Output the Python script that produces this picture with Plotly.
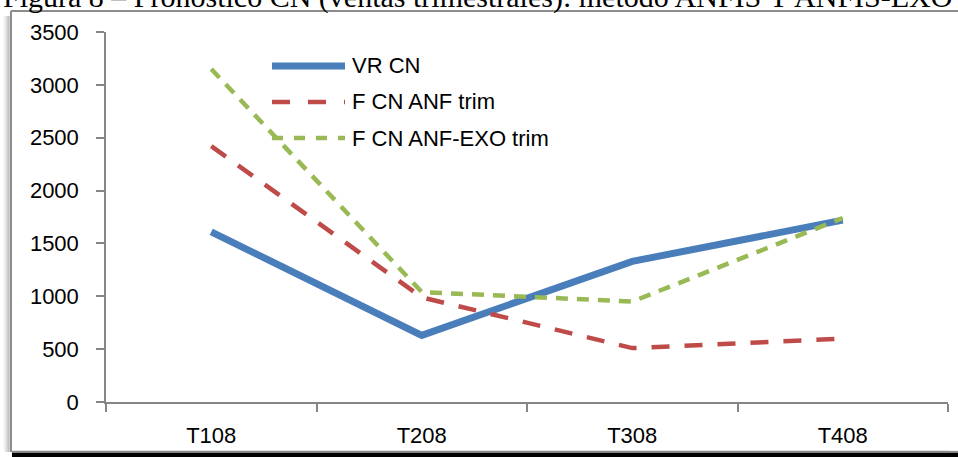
import plotly.graph_objects as go

categories = ["T108", "T208", "T308", "T408"]
vr_cn = [1610, 630, 1330, 1720]
f_cn_anf = [2420, 990, 510, 600]
f_cn_anf_exo = [3150, 1040, 950, 1740]
series_names = ["VR CN", "F CN ANF trim", "F CN ANF-EXO trim"]
y_ticks = [0, 500, 1000, 1500, 2000, 2500, 3000, 3500]
title_text = "Figura 8 – Pronóstico CN (ventas trimestrales): método ANFIS Y ANFIS-EXO"

W, H = 958, 457
L, R, T, B = 106, 10, 32, 55
PW, PH = W - L - R, H - T - B

def px(x):
    return (x - L) / PW

def py(y):
    return (H - B - y) / PH

BLUE = "#4A7EBB"
RED = "#BE4B48"
GREEN = "#98B954"
FONT = "Liberation Sans, Arial, sans-serif"

fig = go.Figure()
fig.add_trace(go.Scatter(x=categories, y=vr_cn, mode="lines", name=series_names[0],
                         line=dict(color=BLUE, width=7)))
fig.add_trace(go.Scatter(x=categories, y=f_cn_anf, mode="lines", name=series_names[1],
                         line=dict(color=RED, width=4.5, dash="18px,15px")))
fig.add_trace(go.Scatter(x=categories, y=f_cn_anf_exo, mode="lines", name=series_names[2],
                         line=dict(color=GREEN, width=4.5, dash="12px,9px")))

shapes = []
shapes.append(dict(type="rect", xref="paper", yref="paper", x0=px(12), x1=px(958), y0=py(457), y1=py(452.5),
                   fillcolor="black", line=dict(width=0), layer="below"))
for i, c in enumerate(["#f4f4f4", "#e8e8e8", "#dcdcdc", "#cccccc", "#bbbbbb", "#a8a8a8"]):
    xx = 4 + i
    shapes.append(dict(type="line", xref="paper", yref="paper", x0=px(xx), x1=px(xx), y0=py(16), y1=py(452),
                       line=dict(color=c, width=1), layer="below"))
shapes.append(dict(type="line", xref="paper", yref="paper", x0=px(11), x1=px(958), y0=py(11), y1=py(11),
                   line=dict(color="#8c8c8c", width=2), layer="below"))
shapes.append(dict(type="line", xref="paper", yref="paper", x0=px(11), x1=px(11), y0=py(11), y1=py(452),
                   line=dict(color="#8c8c8c", width=2), layer="below"))
shapes.append(dict(type="line", xref="paper", yref="paper", x0=px(11), x1=px(958), y0=py(451.5), y1=py(451.5),
                   line=dict(color="#8c8c8c", width=1.5), layer="below"))
# white cover strip on right edge
shapes.append(dict(type="rect", xref="paper", yref="paper", x0=px(949.6), x1=px(960), y0=py(450.5), y1=py(12.2),
                   fillcolor="white", line=dict(width=0), layer="above"))

legend_y = [66, 102, 138]
legend_styles = [dict(color=BLUE, width=7), dict(color=RED, width=4.5, dash="18px,18px"),
                 dict(color=GREEN, width=4.5, dash="11px,11px")]
annotations = []
for name, yy, st in zip(series_names, legend_y, legend_styles):
    shapes.append(dict(type="line", xref="paper", yref="paper", x0=px(272), x1=px(345), y0=py(yy), y1=py(yy),
                       line=st))
    annotations.append(dict(text=name, xref="paper", yref="paper", x=px(350), y=py(yy),
                            xanchor="left", yanchor="middle", showarrow=False,
                            font=dict(family=FONT, size=22, color="black")))

annotations.append(dict(text=title_text, xref="paper", yref="paper", x=px(1), y=py(16),
                        xanchor="left", yanchor="bottom", showarrow=False,
                        font=dict(family="Liberation Serif, Times New Roman, serif", size=30, color="black")))

fig.update_layout(
    width=W, height=H,
    margin=dict(l=L, r=R, t=T, b=B),
    paper_bgcolor="white", plot_bgcolor="white",
    showlegend=False,
    shapes=shapes,
    annotations=annotations,
    font=dict(family=FONT, size=22, color="black"),
)
fig.update_xaxes(type="category", range=[-0.5, 3.5], showgrid=False, zeroline=False,
                 showline=True, linecolor="#868686", linewidth=1.5,
                 ticks="outside", tickson="boundaries", ticklen=8, tickcolor="#868686", tickwidth=1.5,
                 tickfont=dict(family=FONT, size=22, color="black"), ticklabelstandoff=13)
fig.update_yaxes(range=[0, 3500], tickvals=y_ticks, showgrid=False, zeroline=False,
                 showline=True, linecolor="#868686", linewidth=1.5,
                 ticks="outside", ticklen=8, tickcolor="#868686", tickwidth=1.5,
                 tickfont=dict(family=FONT, size=22, color="black"), ticklabelstandoff=13)

fig.write_html("out.html", config={"displayModeBar": False},
               post_script="document.documentElement.style.overflow='hidden';document.body.style.overflow='hidden';document.body.style.margin='0';")
